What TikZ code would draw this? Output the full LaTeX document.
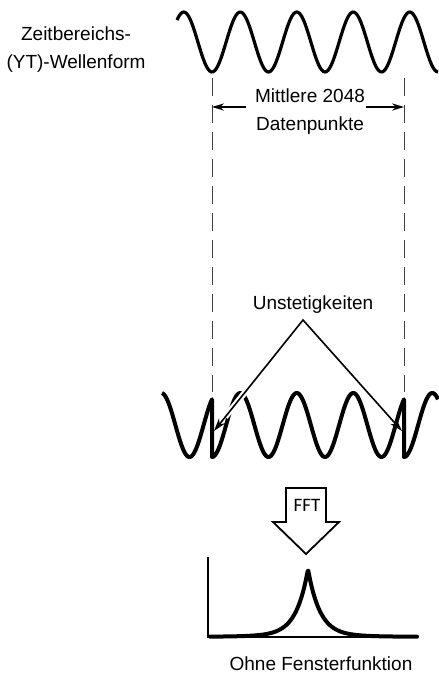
\documentclass[tikz,border=0pt]{standalone}
\usepackage{fontspec}
\setmainfont{Liberation Sans}
\newfontfamily\fftfont{Carlito}
\usetikzlibrary{arrows.meta}

\begin{document}
\begin{tikzpicture}[
  x=0.5pt, y=-0.5pt,
  lbl/.style    = {align=center, inner sep=0pt, font=\fontsize{9.5}{14}\selectfont},
  fftlbl/.style = {inner sep=0pt, font=\fftfont\fontsize{9.5}{11}\selectfont},
  wave/.style   = {line width=1.6pt, line join=round},
  cut/.style    = {draw=black!75, line width=0.45pt, dash pattern=on 9pt off 4.5pt},
  dimarr/.style = {-{Stealth[length=6pt, width=3.6pt]}, line width=0.7pt},
  arr/.style    = {{Stealth[length=6.5pt, width=4pt]}-{Stealth[length=6.5pt, width=4pt]},
                   line width=0.8pt, miter limit=20,
                   preaction={draw=white, line width=3pt, arrows=-,
                              shorten <=9pt, shorten >=9pt}},
  blockarr/.style = {draw, line width=0.9pt, line join=miter, fill=white},
  axis/.style   = {line width=1pt},
  peak/.style   = {line width=2pt, line cap=round, line join=round},
]
\useasboundingbox (0,0) rectangle (438,678);

%% ── Zeitbereich ────────────────────────────────────────────────
\node[lbl] (ytlbl) at (76,50) {Zeitbereichs-\\(YT)-Wellenform};

% 360/56.5 = 6.3717 Grad pro Pixel
\draw[wave, domain=177:438, samples=160]
  plot (\x, {42+30*cos(6.3717*(\x-212))});

\coordinate (cutLtop) at (212,78);
\coordinate (cutLbot) at (212,392);
\coordinate (cutRtop) at (404,78);
\coordinate (cutRbot) at (404,392);
\draw[cut] (cutLtop) -- (cutLbot);
\draw[cut] (cutRtop) -- (cutRbot);

\node[lbl] (midlbl) at (310,112) {Mittlere 2048\\Datenpunkte};
\coordinate (dimLs) at (246,107);
\coordinate (dimL)  at (212,107);
\coordinate (dimRs) at (366,107);
\coordinate (dimR)  at (404,107);
\draw[dimarr] (dimLs) -- (dimL);
\draw[dimarr] (dimRs) -- (dimR);

%% ── Wiederholte Aufzeichnung ──────────────────────────────────
\draw[wave, line width=2pt, samples=60]
  plot[domain=162:212] (\x, {425+32*cos(6.3717*(\x-20))})
  -- plot[domain=212:404, samples=160] (\x, {425+32*cos(6.3717*(\x-212))})
  -- plot[domain=404:438] (\x, {425+32*cos(6.3717*(\x-404))});

\node[lbl] (unst) at (313,305) {Unstetigkeiten};
\coordinate (apex)   at (303,320);
\coordinate (jumpL)  at (214,431);
\coordinate (jumpR)  at (402,431);
\draw[arr] (jumpL) -- (apex) -- (jumpR);

%% ── FFT ───────────────────────────────────────────────────────
\draw[blockarr] (286,488) -- (326,488) -- (326,522) -- (339,522)
  -- (306,554) -- (273,522) -- (286,522) -- cycle;
\node[fftlbl] (fft) at (307,505) {FFT};

%% ── Spektrum ──────────────────────────────────────────────────
\coordinate (axtop) at (208,557);
\coordinate (axorg) at (208,637);
\coordinate (axend) at (417,637);
\draw[axis] (axtop) -- (axorg) -- (axend);
\draw[peak, domain=210:417, samples=300]
  plot (\x, {637-62*exp(-abs(\x-308)/11)-6/(1+((\x-308)/25)*((\x-308)/25))});

\node[lbl] (ohne) at (321,664) {Ohne Fensterfunktion};

\end{tikzpicture}
\end{document}
